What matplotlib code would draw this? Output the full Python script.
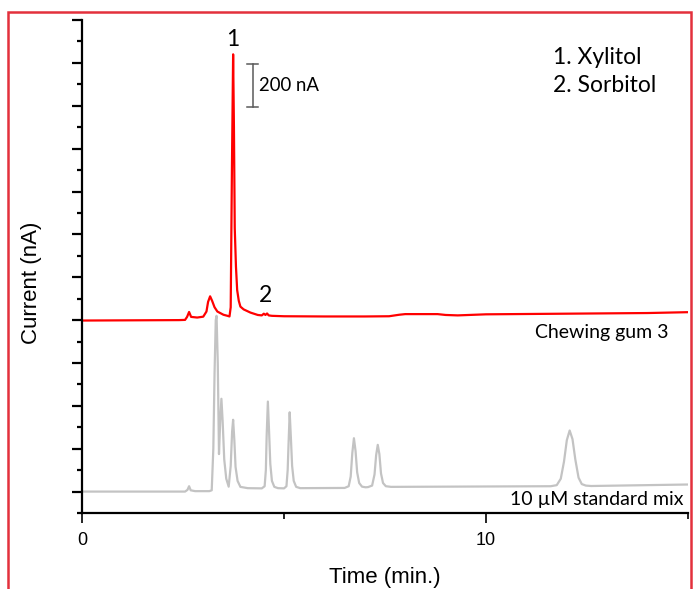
import matplotlib
matplotlib.use("Agg")
import matplotlib.pyplot as plt
from matplotlib.patches import Rectangle
from matplotlib.ticker import FixedLocator

# ---- data (time in min, current in nA, offset traces) ----
gum_time = [0.0, 2.40, 2.55, 2.60, 2.65, 2.70, 2.85, 3.00, 3.08, 3.12, 3.17, 3.22, 3.28,
            3.35, 3.50, 3.60, 3.65, 3.68, 3.71, 3.74, 3.76, 3.78, 3.81, 3.84, 3.88,
            3.92, 4.00, 4.17, 4.35, 4.45, 4.50, 4.54, 4.58, 4.62, 4.70, 5.0, 6.0, 7.0,
            7.6, 7.85, 8.0, 8.8, 9.0, 9.3, 10.0, 12.0, 14.0, 15.0]
gum_current = [898, 900, 901, 915, 938, 915, 912, 916, 940, 985, 1011, 990, 960,
               940, 925, 920, 917, 960, 1600, 2140, 1800, 1330, 1150, 1040, 990,
               963, 950, 935, 924, 922, 930, 924, 931, 922, 920, 918, 917, 917,
               918, 925, 928, 928, 924, 922, 927, 930, 933, 937]

std_time = [0.0, 2.55, 2.61, 2.65, 2.69, 2.80, 3.15, 3.21, 3.25, 3.28, 3.31, 3.33, 3.36,
            3.39, 3.42, 3.45, 3.48, 3.52, 3.57, 3.63, 3.68, 3.715, 3.74, 3.77, 3.80,
            3.85, 3.92, 4.10, 4.45, 4.52, 4.55, 4.57, 4.60, 4.63, 4.66, 4.70, 4.76,
            4.85, 5.00, 5.06, 5.09, 5.115, 5.14, 5.17, 5.20, 5.24, 5.30, 5.40, 6.50,
            6.60, 6.65, 6.69, 6.73, 6.77, 6.81, 6.86, 6.93, 7.02, 7.08, 7.18, 7.24,
            7.28, 7.32, 7.36, 7.40, 7.45, 7.52, 7.65, 9.0, 11.6, 11.75, 11.85, 11.93,
            12.00, 12.07, 12.14, 12.21, 12.29, 12.37, 12.47, 12.6, 15.0]
std_current = [100, 100, 108, 125, 106, 102, 102, 106, 300, 650, 900, 920, 700,
               275, 430, 533, 430, 250, 160, 123, 220, 380, 435, 340, 215,
               150, 122, 116, 115, 125, 200, 360, 520, 380, 230, 150, 122,
               116, 115, 125, 200, 340, 470, 350, 220, 150, 122, 116, 117,
               125, 170, 280, 349, 290, 190, 140, 123, 120, 121, 128, 180,
               270, 318, 275, 185, 140, 125, 122, 123, 125, 130, 160, 240,
               340, 385, 345, 250, 165, 135, 128, 126, 133]

x_major = [0, 10]
x_minor = [5, 15]
x_labels = ["0", "10"]

legend_lines = ["1. Xylitol", "2. Sorbitol"]
trace_names = ["Chewing gum 3", "10 µM standard mix"]
peak_labels = ["1", "2"]

CAL = ["Lato", "DejaVu Sans"]
ARIAL = ["Liberation Sans", "DejaVu Sans"]

fig = plt.figure(figsize=(6.94, 5.89), dpi=100)
ax = fig.add_axes([0.1182, 0.129, 0.8732, 0.837])

ax.plot(std_time, std_current, color="#c3c3c3", lw=1.6, solid_joinstyle="round")
ax.plot(gum_time, gum_current, color="#ff0000", lw=1.6, solid_joinstyle="round")

ax.set_xlim(0, 15)
ax.set_ylim(0, 2300)

for s in ["top", "right"]:
    ax.spines[s].set_visible(False)
for s in ["left", "bottom"]:
    ax.spines[s].set_linewidth(1.6)
    ax.spines[s].set_color("black")

ax.xaxis.set_major_locator(FixedLocator(x_major))
ax.xaxis.set_minor_locator(FixedLocator(x_minor))
ax.set_xticklabels(x_labels, family=ARIAL, fontsize=13)
ax.tick_params(axis="x", which="major", length=7, width=1.2, direction="out", pad=7)
ax.tick_params(axis="x", which="minor", length=4.5, width=1.2, direction="out")

ax.yaxis.set_major_locator(FixedLocator(list(range(100, 2301, 200))))
ax.yaxis.set_minor_locator(FixedLocator(list(range(0, 2301, 200))))
ax.tick_params(axis="y", which="major", length=7, width=1.6, direction="out", labelleft=False)
ax.tick_params(axis="y", which="minor", length=3.5, width=1.6, direction="out")

# axis titles
fig.text(385 / 694, 1 - 578 / 589, "Time (min.)", ha="center", va="center",
         family=ARIAL, fontsize=16)
fig.text(32 / 694, 1 - 283 / 589, "Current (nA)", ha="center", va="center",
         rotation=90, family=ARIAL, fontsize=16)

# peak labels
ax.text(3.72, 2210, peak_labels[0], ha="center", va="center", family=CAL, fontsize=16.5)
ax.text(4.55, 1014, peak_labels[1], ha="center", va="center", family=CAL, fontsize=16.5)

# scale bar 200 nA
sb_x, sb_lo, sb_hi = 4.22, 1895, 2095
ax.plot([sb_x, sb_x], [sb_lo, sb_hi], color="#5a5a5a", lw=1.1)
ax.plot([sb_x - 0.13, sb_x + 0.13], [sb_lo, sb_lo], color="#5a5a5a", lw=1.1)
ax.plot([sb_x - 0.13, sb_x + 0.13], [sb_hi, sb_hi], color="#5a5a5a", lw=1.1)
ax.text(4.38, 1995, "200 nA", ha="left", va="center", family=CAL, fontsize=13.4)

# compound legend
ax.text(11.66, 2126, legend_lines[0], ha="left", va="center", family=CAL, fontsize=16.5)
ax.text(11.66, 1995, legend_lines[1], ha="left", va="center", family=CAL, fontsize=16.5)

# trace names
ax.text(14.52, 842, trace_names[0], ha="right", va="center", family=CAL, fontsize=14)
ax.text(14.89, 65, trace_names[1], ha="right", va="center", family=CAL, fontsize=14)

# red frame around figure
frame = Rectangle((8 / 694, -0.05), (691 - 8) / 694, (1 - 12 / 589) + 0.05,
                  transform=fig.transFigure, fill=False, edgecolor="#e3303c",
                  lw=1.8, clip_on=False)
fig.add_artist(frame)

fig.savefig("out.png", dpi=100)
